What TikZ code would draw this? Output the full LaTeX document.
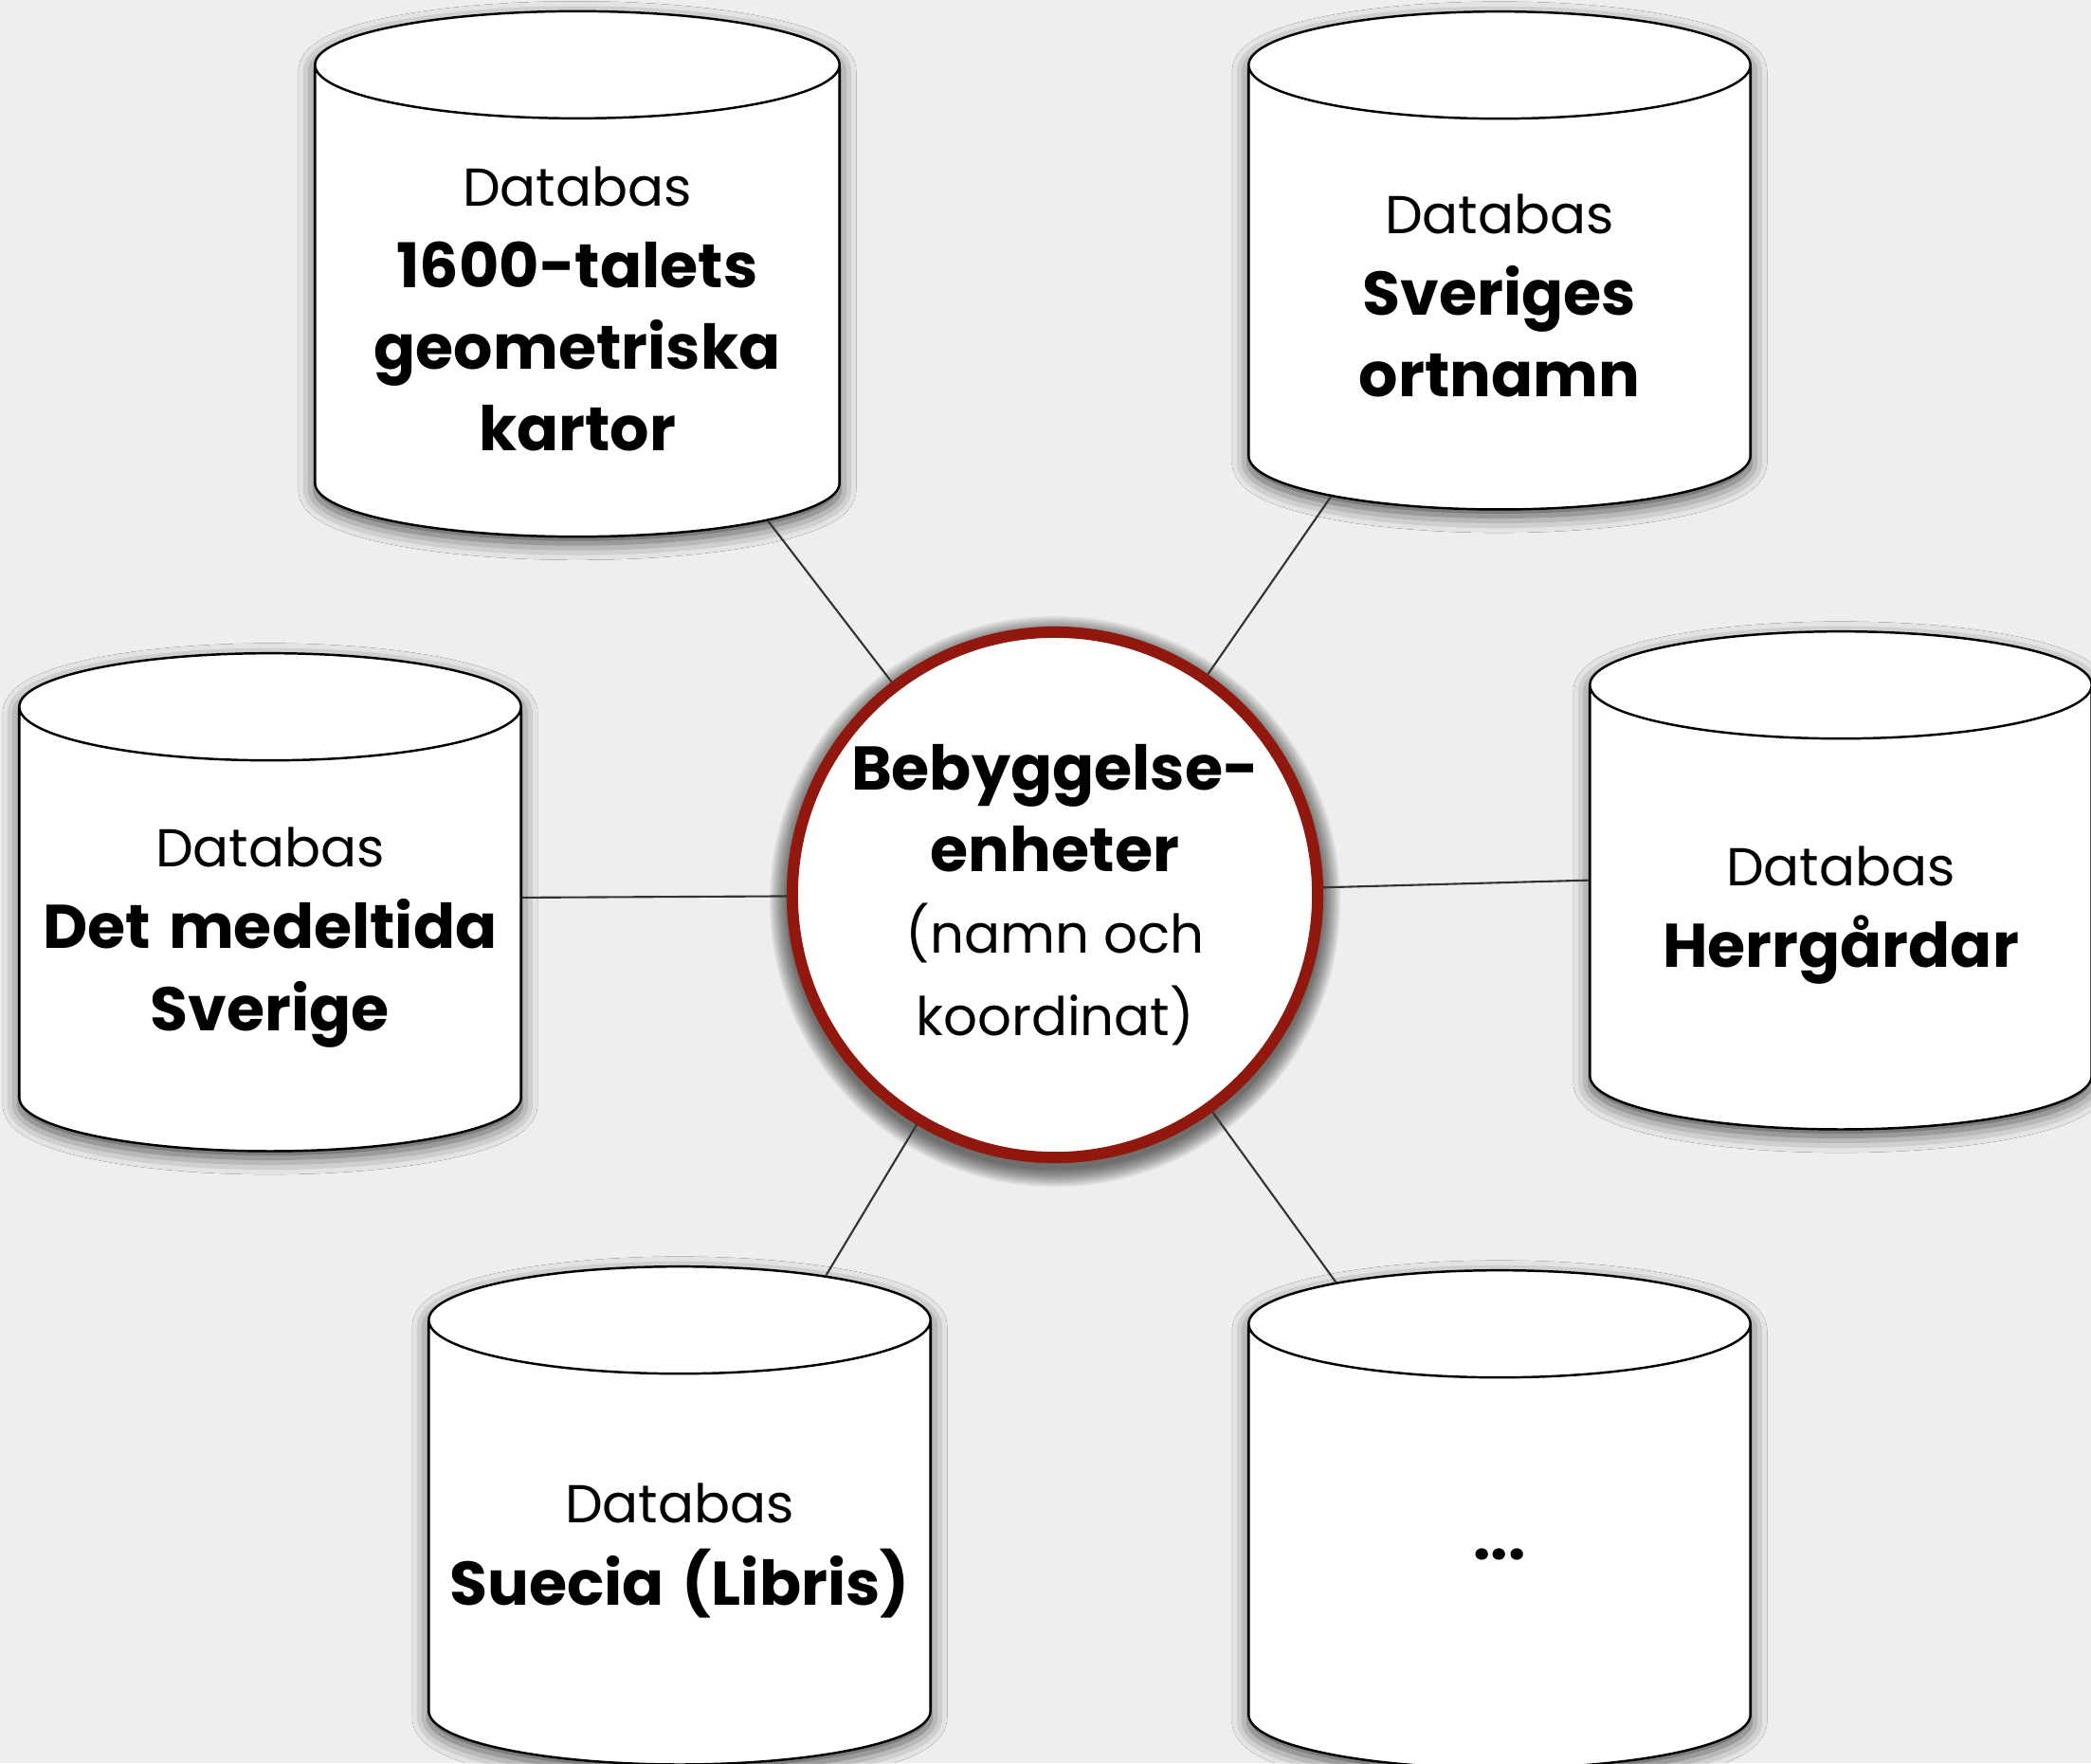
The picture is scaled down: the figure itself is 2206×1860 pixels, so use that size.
\documentclass[tikz,border=0pt]{standalone}
\usepackage{fontspec}
\setmainfont{Poppins}
\usepackage{tikz}
\usepackage{xcolor}
\usetikzlibrary{shapes.geometric, shadows.blur}
\definecolor{paper}{RGB}{238,238,236}
\definecolor{hubred}{RGB}{145,24,14}

\begin{document}
\begin{tikzpicture}[x=0.01cm, y=-0.01cm, semithick]
    \tikzstyle{db}=[cylinder, shape border rotate=90, aspect=0.22, draw=black, line width=0.7pt, fill=white,
        text width=4.9cm, minimum width=5.29cm, minimum height=5.25cm, align=center,
        font=\fontsize{16}{24.5}\selectfont,
        blur shadow={shadow xshift=0pt, shadow yshift=-2pt, shadow blur radius=5pt, shadow opacity=70}]
    \tikzstyle{hub}=[circle, draw=hubred, line width=0.12cm, fill=white, minimum size=5.54cm, inner sep=0pt,
        align=center, font=\fontsize{16}{24.5}\selectfont]
    \newcommand{\bigtext}[1]{{\fontsize{18.5}{24.5}\selectfont\bfseries #1}}

    \useasboundingbox (0,0) rectangle (2206,1860);
    \clip (0,0) rectangle (2206,1860);
    \fill[paper] (0,0) rectangle (2206,1860);

    % soft shadow round the hub
    \coordinate (hc) at (1113,944);
    \foreach \r in {301,299,...,283}
        \fill[black, opacity=0.07] ([yshift=-2pt]hc) circle (\r);

    \node[hub] (H) at (hc) {\bigtext{Bebyggelse-}\\\bigtext{enheter}\\(namn och\\koordinat)};

    \node[db, minimum width=5.53cm, minimum height=5.54cm] (K) at (609,326) {Databas\\\bigtext{1600-talets}\\\bigtext{geometriska}\\\bigtext{kartor}};
    \node[db] (O) at (1582,312) {Databas\\\bigtext{Sveriges}\\\bigtext{ortnamn}};
    \node[db] (M) at (285,989) {Databas\\\bigtext{Det medeltida}\\\bigtext{Sverige}};
    \node[db] (G) at (1942,966) {Databas\\\bigtext{Herrgårdar}};
    \node[db] (S) at (717,1636) {Databas\\\bigtext{Suecia (Libris)}};
    \node[db] (X) at (1582,1640) {\bigtext{...}};

    \path[draw=black!80, line width=0.6pt]
    (H) edge (K.-48)
        edge (O.230)
        edge (M.9)
        edge (G.172)
        edge (S.62)
        edge (X.121);
\end{tikzpicture}
\end{document}
